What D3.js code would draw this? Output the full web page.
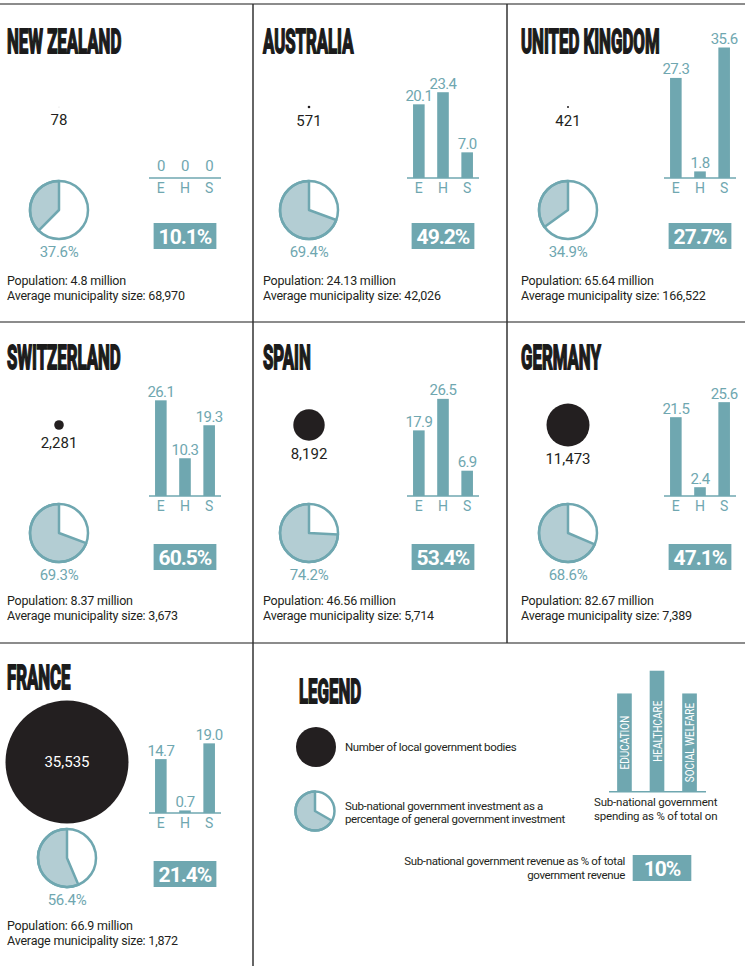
<!DOCTYPE html>
<html>
<head>
<meta charset="utf-8">
<script src="https://cdn.jsdelivr.net/npm/d3@7"></script>
<style>
  body { margin: 0; background: #fff; }
  svg text { font-family: Roboto, "Open Sans", sans-serif; }
  .title { font-weight: 700; font-size: 32.3px; fill: #1b1b1b; stroke: #1b1b1b; stroke-width: 1.8px; }
</style>
</head>
<body>
<svg id="chart" width="745" height="966"></svg>
<script>
// values
const countries = ["NEW ZEALAND", "AUSTRALIA", "UNITED KINGDOM", "SWITZERLAND", "SPAIN", "GERMANY", "FRANCE"];
const bodies = [78, 571, 421, 2281, 8192, 11473, 35535];
const investmentShare = [37.6, 69.4, 34.9, 69.3, 74.2, 68.6, 56.4];
const education = [0, 20.1, 27.3, 26.1, 17.9, 21.5, 14.7];
const healthcare = [0, 23.4, 1.8, 10.3, 26.5, 2.4, 0.7];
const welfare = [0, 7.0, 35.6, 19.3, 6.9, 25.6, 19.0];
const revenueShare = [10.1, 49.2, 27.7, 60.5, 53.4, 47.1, 21.4];
const populationMillions = [4.8, 24.13, 65.64, 8.37, 46.56, 82.67, 66.9];
const municipalitySize = [68970, 42026, 166522, 3673, 5714, 7389, 1872];
const spendingLabels = ["E", "H", "S"];

// legend sample values
const legendSpending = ["EDUCATION", "HEALTHCARE", "SOCIAL WELFARE"];
const legendSpendingValues = [26.8, 33.0, 26.8];
const legendInvestment = 66.7;
const legendRevenue = 10;

const teal = "#6fa7b0";
const tealLight = "#b3cdd3";
const ink = "#231f20";

// grid layout
const colX = [0, 253, 507];
const rowTop = [4, 322, 643];
const rowLayout = [
  { title: 49, dot: 103, axis: 174, box: 219, pie: 206, info: 281, dx: 0 },
  { title: 47, dot: 103, axis: 174, box: 222, pie: 211, info: 283, dx: 0 },
  { title: 46, dot: 119, axis: 170, box: 218, pie: 215, info: 287, dx: 8 }
];
const colLayout = [
  { text: 7, centre: 59, axis: 149 },
  { text: 10, centre: 56, axis: 154 },
  { text: 14, centre: 61, axis: 157 }
];

const svg = d3.select("#chart");

const rScale = d3.scalePow().exponent(0.93).domain([0, d3.max(bodies)]).range([0, 61.5]);
const barY = d3.scaleLinear()
  .domain([0, d3.max([...education, ...healthcare, ...welfare])])
  .range([0, 130.5]);
const barX = d3.scaleBand().domain(spendingLabels).range([0, 72])
  .paddingInner(0.52).paddingOuter(0.25);
const pie = d3.pie().sort(null).startAngle(0).endAngle(-2 * Math.PI);
const fmt1 = d3.format(".1f");
const fmtComma = d3.format(",");

// grid lines
svg.selectAll(".hline").data(rowTop).enter().append("line")
  .attr("x1", 0).attr("x2", 745)
  .attr("y1", (d) => d).attr("y2", (d) => d)
  .attr("stroke", "#666").attr("stroke-width", 1.6);
svg.append("line").attr("x1", 253).attr("x2", 253).attr("y1", 4).attr("y2", 966)
  .attr("stroke", "#333").attr("stroke-width", 1.5);
svg.append("line").attr("x1", 507).attr("x2", 507).attr("y1", 4).attr("y2", 643)
  .attr("stroke", "#333").attr("stroke-width", 1.5);

function drawPie(g, cx, cy, r, share) {
  const arc = d3.arc().innerRadius(0).outerRadius(r);
  g.append("circle").attr("cx", cx).attr("cy", cy).attr("r", r)
    .attr("fill", "#fff");
  g.append("path").attr("transform", `translate(${cx},${cy})`)
    .attr("d", arc(pie([share, 100 - share])[0]))
    .attr("fill", tealLight).attr("stroke", teal).attr("stroke-width", 2.5)
    .attr("stroke-linejoin", "round");
  g.append("circle").attr("cx", cx).attr("cy", cy).attr("r", r)
    .attr("fill", "none").attr("stroke", teal).attr("stroke-width", 2.5);
}

function drawBox(g, cx, top, label, pad) {
  const t = g.append("text")
    .attr("x", cx).attr("y", top + 20.5)
    .attr("text-anchor", "middle")
    .attr("font-size", 21).attr("font-weight", 700)
    .attr("letter-spacing", -1)
    .attr("fill", "#fff")
    .text(label);
  const w = t.node().getComputedTextLength() + pad * 2;
  g.insert("rect", "text")
    .attr("x", cx - w / 2).attr("y", top)
    .attr("width", w).attr("height", 26)
    .attr("fill", teal);
}

countries.forEach((name, i) => {
  const c = i % 3, r = Math.floor(i / 3);
  const x0 = colX[c], y0 = rowTop[r];
  const R = rowLayout[r], C = colLayout[c];
  const g = svg.append("g");

  g.append("text").attr("class", "title")
    .attr("transform", `translate(${x0 + C.text},${y0 + R.title}) scale(0.52,1)`)
    .text(name);

  // number of local government bodies
  const cx = x0 + C.centre + R.dx;
  const cy = y0 + R.dot;
  const rad = rScale(bodies[i]);
  g.append("circle").attr("cx", cx).attr("cy", cy).attr("r", rad).attr("fill", ink);
  const inside = rad > 30;
  g.append("text")
    .attr("x", cx).attr("y", inside ? cy + 5 : cy + rad + 18)
    .attr("text-anchor", "middle").attr("font-size", 15)
    .attr("fill", inside ? "#fff" : ink)
    .text(fmtComma(bodies[i]));

  // spending bars
  const vals = [education[i], healthcare[i], welfare[i]];
  const bg = g.append("g").attr("transform", `translate(${x0 + C.axis},${y0 + R.axis})`);
  bg.selectAll("rect").data(vals).enter().append("rect")
    .attr("x", (d, k) => barX(spendingLabels[k]))
    .attr("y", (d) => -barY(d))
    .attr("width", barX.bandwidth())
    .attr("height", (d) => barY(d))
    .attr("fill", teal);
  bg.selectAll(".val").data(vals).enter().append("text")
    .attr("x", (d, k) => barX(spendingLabels[k]) + barX.bandwidth() / 2)
    .attr("y", (d) => -barY(d) - (d === 0 ? 7 : 3.5))
    .attr("text-anchor", "middle").attr("font-size", 15)
    .attr("letter-spacing", -0.6).attr("fill", teal)
    .text((d) => (d === 0 ? "0" : fmt1(d)));
  bg.append("line").attr("x1", 0).attr("x2", 72)
    .attr("stroke", teal).attr("stroke-width", 1.5);
  bg.selectAll(".cat").data(spendingLabels).enter().append("text")
    .attr("x", (d) => barX(d) + barX.bandwidth() / 2)
    .attr("y", 15)
    .attr("text-anchor", "middle").attr("font-size", 14)
    .attr("fill", teal)
    .text((d) => d);

  // revenue box
  drawBox(g, x0 + C.axis + 36, y0 + R.box, fmt1(revenueShare[i]) + "%", 5);

  // investment pie
  const px = x0 + C.centre + R.dx;
  const py = y0 + R.pie;
  drawPie(g, px, py, 29, investmentShare[i]);
  g.append("text")
    .attr("x", px).attr("y", py + 47)
    .attr("text-anchor", "middle").attr("font-size", 15)
    .attr("letter-spacing", -0.3).attr("fill", teal)
    .text(fmt1(investmentShare[i]) + "%");

  // info lines
  g.append("text")
    .attr("x", x0 + C.text).attr("y", y0 + R.info)
    .attr("font-size", 12.5).attr("letter-spacing", -0.2).attr("fill", ink)
    .text(`Population: ${populationMillions[i]} million`);
  g.append("text")
    .attr("x", x0 + C.text).attr("y", y0 + R.info + 15)
    .attr("font-size", 12.5).attr("letter-spacing", -0.2).attr("fill", ink)
    .text(`Average municipality size: ${fmtComma(municipalitySize[i])}`);
});

// legend
const lg = svg.append("g");
lg.append("text").attr("class", "title")
  .attr("transform", "translate(299,702.7) scale(0.52,1)")
  .text("LEGEND");

lg.append("circle").attr("cx", 316).attr("cy", 747).attr("r", 20).attr("fill", ink);
lg.append("text").attr("x", 345).attr("y", 751)
  .attr("font-size", 11.5).attr("letter-spacing", -0.35).attr("fill", ink)
  .text("Number of local government bodies");

drawPie(lg, 315, 811, 19.5, legendInvestment);
lg.selectAll(".inv").data([
  "Sub-national government investment as a",
  "percentage of general government investment"
]).enter().append("text")
  .attr("x", 345).attr("y", (d, k) => 810 + k * 12.5)
  .attr("font-size", 11.5).attr("letter-spacing", -0.35).attr("fill", ink)
  .text((d) => d);

const legX = d3.scaleBand().domain(legendSpending).range([609, 705])
  .paddingInner(0.55).paddingOuter(0.25);
const legY = d3.scaleLinear().domain([0, 35.6]).range([0, 130.5]);
const legBase = 791.7;
lg.selectAll(".lbar").data(legendSpendingValues).enter().append("rect")
  .attr("x", (d, k) => legX(legendSpending[k]))
  .attr("y", (d) => legBase - legY(d))
  .attr("width", legX.bandwidth())
  .attr("height", (d) => legY(d))
  .attr("fill", teal);
lg.selectAll(".ltxt").data(legendSpendingValues).enter().append("text")
  .attr("transform", (d, k) =>
    `translate(${legX(legendSpending[k]) + legX.bandwidth() / 2},${legBase - legY(d) / 2}) rotate(-90) scale(0.74,1)`)
  .attr("dy", "0.36em")
  .attr("text-anchor", "middle").attr("font-size", 13.5)
  .attr("fill", "#fff")
  .text((d, k) => legendSpending[k]);
lg.append("line").attr("x1", 609).attr("x2", 706).attr("y1", legBase).attr("y2", legBase)
  .attr("stroke", teal).attr("stroke-width", 1.5);
lg.selectAll(".spend").data(["Sub-national government", "spending as % of total on"])
  .enter().append("text")
  .attr("x", 594).attr("y", (d, k) => 806 + k * 14)
  .attr("font-size", 11.5).attr("letter-spacing", -0.2).attr("fill", ink)
  .text((d) => d);

lg.selectAll(".rev").data(["Sub-national government revenue as % of total", "government revenue"])
  .enter().append("text")
  .attr("x", 625).attr("y", (d, k) => 865 + k * 13.5)
  .attr("text-anchor", "end")
  .attr("font-size", 11.5).attr("letter-spacing", -0.35).attr("fill", ink)
  .text((d) => d);
drawBox(lg, 662, 855, legendRevenue + "%", 11);
</script>
</body>
</html>
